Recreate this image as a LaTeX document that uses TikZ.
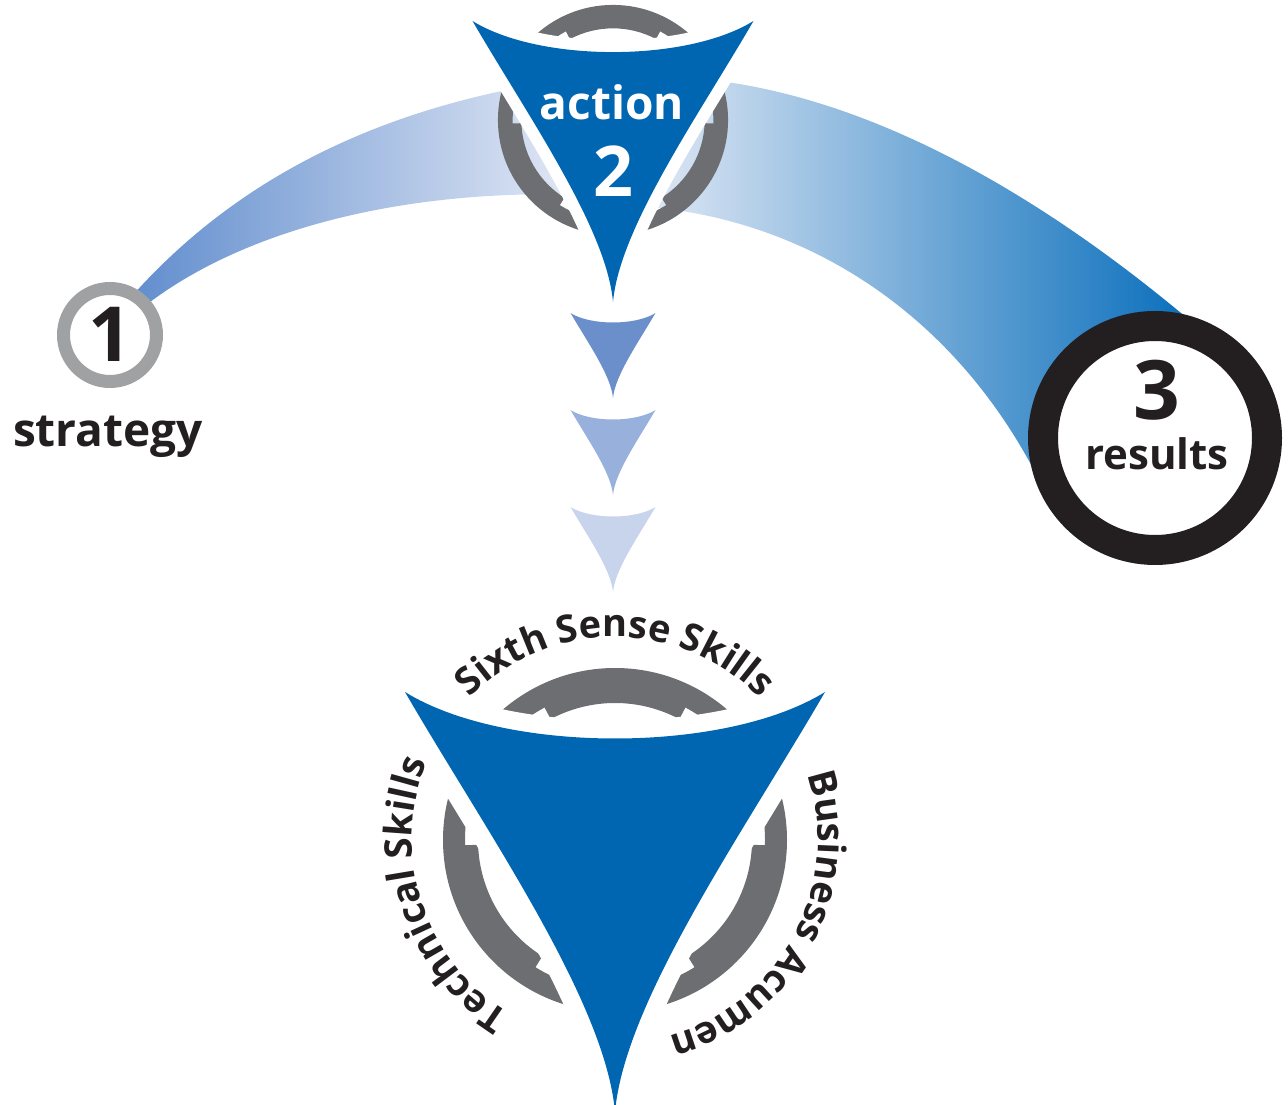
\documentclass[tikz,border=0pt]{standalone}
\usepackage{fontspec}
\setmainfont{Open Sans}
\usetikzlibrary{decorations.text}
\definecolor{eblue}{RGB}{0,102,178}
\definecolor{rgray}{RGB}{109,110,113}
\definecolor{cgray}{RGB}{160,161,163}
\definecolor{txt}{RGB}{35,31,32}
\definecolor{tria}{RGB}{106,143,202}
\definecolor{trib}{RGB}{152,176,220}
\definecolor{tric}{RGB}{200,212,236}
\definecolor{bandL}{RGB}{95,140,205}
\definecolor{bandM}{RGB}{148,172,218}
\definecolor{bandP}{RGB}{236,239,248}
\definecolor{bandN}{RGB}{125,158,210}
\definecolor{bandR}{RGB}{0,105,185}
\newcommand{\tripath}{(-210,148) .. controls (-110,86) and (110,86) .. (210,148) .. controls (130,10) and (10,-160) .. (0,-272) .. controls (-10,-160) and (-130,10) .. (-210,148) -- cycle}
\newcommand{\emblem}[4]{%
  \begin{scope}[shift={(#1,#2)},scale=#3]
    \fill[rgray,even odd rule] (0,0) circle[radius=172] (0,0) circle[radius=150];
    \foreach \a in {90,210,330}{
      \fill[rgray] (\a-28:160) arc[start angle=\a-28,end angle=\a+28,radius=160]
        -- (\a+28:137) arc[start angle=\a+28,end angle=\a-28,radius=137] -- cycle;}
    \draw[white,line width=#4,line join=round] \tripath;
    \fill[eblue] \tripath;
  \end{scope}}
\newcommand{\smalltri}[3]{\begin{scope}[shift={(#1,#2)},scale=0.202]\fill[#3] \tripath;\end{scope}}
\newcommand{\arcfont}{\bfseries\fontsize{38}{38}\selectfont\color{txt}}
\tikzset{
  lbl/.style={inner sep=0pt,anchor=base,text=txt,font=\bfseries\fontsize{#1}{#1}\selectfont},
  wlbl/.style={inner sep=0pt,anchor=base,text=white,font=\bfseries\fontsize{#1}{#1}\selectfont},
  arctext/.style={decorate,decoration={text along path,text align=center,text={|\arcfont|#1}}}
}
\begin{document}
\begin{tikzpicture}[x=1pt,y=1pt]
\useasboundingbox (0,0) rectangle (1288,1104);
% bands
\shade[left color=bandL,middle color=bandM,right color=bandP]
  (125,800) .. controls (250,945) and (420,1010) .. (610,1030)
  -- (610,908) .. controls (400,920) and (230,870) .. (135,790) -- cycle;
\shade[left color=bandP,middle color=bandN,right color=bandR]
  (615,1026) .. controls (850,1045) and (1080,880) .. (1215,762)
  -- (1045,612) .. controls (960,790) and (800,895) .. (615,899) -- cycle;
% top emblem
\emblem{613}{984}{0.669}{24}
\node[wlbl=46] (act) at (612,984) {action};
\node[wlbl=70] (two) at (613,907) {2};
% circle 1
\draw[cgray,line width=13,fill=white] (110,769) circle[radius=46.5];
\node[lbl=76] (one) at (110,742) {1};
\node[lbl=46] (strat) at (108,657) {strategy};
% circle 3
\draw[txt,line width=30,fill=white] (1155,666) circle[radius=112];
\node[lbl=82] (three) at (1157,684) {3};
\node[lbl=42] (res) at (1157,634) {results};
% small triangles
\smalltri{613}{761}{tria}
\smalltri{613}{664}{trib}
\smalltri{613}{567}{tric}
% bottom emblem
\emblem{615}{264}{1}{36}
\path[arctext={Sixth Sense Skills}] ([shift={(160:203)}]615,264) arc[start angle=160,end angle=20,radius=203];
\path[arctext={Technical Skills}] ([shift={(273:203)}]615,264) arc[start angle=273,end angle=123,radius=203];
\path[arctext={Business Acumen}] ([shift={(47:203)}]615,264) arc[start angle=47,end angle=-103,radius=203];
\end{tikzpicture}
\end{document}
